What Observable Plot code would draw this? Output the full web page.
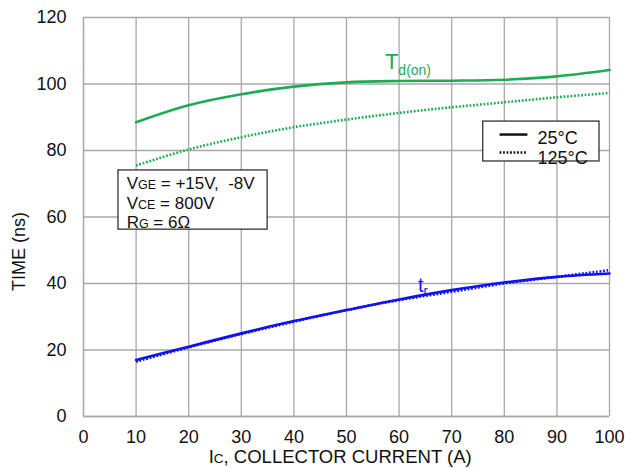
<!DOCTYPE html>
<html><head><meta charset="utf-8">
<script src="https://cdn.jsdelivr.net/npm/d3@7"></script>
<script src="https://cdn.jsdelivr.net/npm/@observablehq/plot@0.6"></script>
<style>body{margin:0;background:#fff} svg{display:block}</style>
</head><body><div id="chart"></div>
<script>
// Data
const currents = [10, 20, 30, 40, 50, 60, 70, 80, 90, 100];
const tdon25  = [88.5, 93.6, 96.9, 99.2, 100.5, 100.9, 101.0, 101.3, 102.3, 104.2];
const tdon125 = [75.5, 80.3, 84.0, 87.0, 89.3, 91.3, 93.0, 94.5, 96.0, 97.3];
const tr25    = [17.0, 21.0, 25.0, 28.7, 32.0, 35.2, 38.0, 40.3, 42.0, 43.0];
const tr125   = [16.5, 20.8, 24.8, 28.5, 32.0, 35.0, 37.5, 40.0, 42.0, 44.0];
const xTicks = [0, 10, 20, 30, 40, 50, 60, 70, 80, 90, 100];
const yTicks = [0, 20, 40, 60, 80, 100, 120];
const conditionLines = ["VGE = +15V,  -8V", "VCE = 800V", "RG = 6Ω"];
const legendLabels = ["25°C", "125°C"];
const xTitle = "IC, COLLECTOR CURRENT (A)";
const yTitle = "TIME (ns)";

const GREEN = "#1eab55", BLUE = "#1010f5", GRID = "#a8a8a8";
const DOTS = "1.8,1.7";

function rows(ys, name, temp) { return currents.map((x, i) => ({x, y: ys[i], name, temp})); }
const solidRows = [...rows(tdon25, "td", 25), ...rows(tr25, "tr", 25)];
const dotRows = [...rows(tdon125, "td", 125), ...rows(tr125, "tr", 125)];
const colorOf = d => d.name === "td" ? GREEN : BLUE;

// annotation placement (data coordinates)
const condBox = [{x1: 6.65, x2: 35.0, y1: 56.2, y2: 74.0}];
const condText = conditionLines.map((t, i) => ({t, x: 8.2, y: [70.0, 64.0, 58.4][i]}));
const legBox = [{x1: 76.0, x2: 98.1, y1: 76.7, y2: 88.7}];
const legSamples = [{x1: 79.1, x2: 84.4, y: 84.8, dash: null}, {x1: 79.1, x2: 84.4, y: 79.4, dash: DOTS}];
const legText = legendLabels.map((t, i) => ({t, x: 86.3, y: [83.6, 77.6][i]}));
const curveLabels = [{t: "Td(on)", x: 57.3, y: 106.5}, {t: "tr", x: 63.6, y: 39.3}];
const titleX = [{t: xTitle, x: 48.8}];
const titleY = [{t: yTitle, y: 49.6}];

const plot = Plot.plot({
  width: 625, height: 468,
  marginLeft: 83, marginRight: 16, marginTop: 17, marginBottom: 52,
  style: {fontFamily: "'Liberation Sans', Arial, sans-serif", fontSize: "18px", color: "#111", background: "#fff"},
  x: {domain: [0, 100]},
  y: {domain: [0, 120]},
  marks: [
    Plot.gridX(xTicks, {stroke: GRID, strokeOpacity: 1, strokeWidth: 1.3}),
    Plot.gridY(yTicks, {stroke: GRID, strokeOpacity: 1, strokeWidth: 1.3}),
    Plot.ruleX([0], {stroke: GRID, strokeWidth: 1.3}),
    Plot.ruleY([0], {stroke: GRID, strokeWidth: 1.3}),
    Plot.axisY(yTicks, {anchor: "left", tickSize: 0, tickPadding: 17, fontSize: 18, label: null}),
    Plot.axisX(xTicks, {anchor: "bottom", tickSize: 0, tickPadding: 14, fontSize: 18, label: null}),
    Plot.text(titleY, {frameAnchor: "left", y: "y", text: "t", rotate: -90, dx: -64, textAnchor: "middle", lineAnchor: "middle", fontSize: 18, fill: "#111"}),
    Plot.text(titleX, {frameAnchor: "bottom", x: "x", text: "t", dy: 40.5, textAnchor: "middle", lineAnchor: "middle", fontSize: 18.5, fill: "#111"}),
    Plot.rect(condBox, {x1: "x1", x2: "x2", y1: "y1", y2: "y2", fill: "white", stroke: "#222", strokeWidth: 1.2}),
    Plot.text(condText, {x: "x", y: "y", text: "t", textAnchor: "start", fontSize: 17, fill: "#111"}),
    Plot.rect(legBox, {x1: "x1", x2: "x2", y1: "y1", y2: "y2", fill: "white", stroke: "#222", strokeWidth: 1.2}),
    Plot.link(legSamples.filter(d => !d.dash), {x1: "x1", x2: "x2", y1: "y", y2: "y", stroke: "#111", strokeWidth: 2.5, strokeLinecap: "butt"}),
    Plot.link(legSamples.filter(d => d.dash), {x1: "x1", x2: "x2", y1: "y", y2: "y", stroke: "#111", strokeWidth: 2.5, strokeDasharray: DOTS, strokeLinecap: "butt"}),
    Plot.text(legText, {x: "x", y: "y", text: "t", textAnchor: "start", fontSize: 18, fill: "#111"}),
    Plot.line(dotRows, {x: "x", y: "y", z: "name", stroke: colorOf, strokeWidth: 2.6, strokeDasharray: DOTS, strokeLinecap: "butt", curve: "catmull-rom"}),
    Plot.line(solidRows, {x: "x", y: "y", z: "name", stroke: colorOf, strokeWidth: 2.6, curve: "catmull-rom"}),
    Plot.text(curveLabels.slice(0, 1), {x: "x", y: "y", text: "t", textAnchor: "start", fontSize: 22, fill: GREEN}),
    Plot.text(curveLabels.slice(1), {x: "x", y: "y", text: "t", textAnchor: "start", fontSize: 20, fill: BLUE})
  ]
});
document.getElementById("chart").append(plot);

// rich text: subscripts
const rich = {
  "VGE = +15V,  -8V": [["V"], ["GE", 12.5], [" = +15V,  -8V"]],
  "VCE = 800V": [["V"], ["CE", 12.5], [" = 800V"]],
  "RG = 6Ω": [["R"], ["G", 12.5], [" = 6Ω"]],
  "IC, COLLECTOR CURRENT (A)": [["I"], ["C", 13.5], [", COLLECTOR CURRENT (A)"]],
  "Td(on)": [["T"], ["d(on)", 14, 6]],
  "tr": [["t"], ["r", 13, 3]]
};
d3.select(plot).selectAll("text").each(function() {
  const spec = rich[this.textContent];
  if (!spec) return;
  const el = d3.select(this);
  el.text(null);
  let shift = 0;
  for (const [s, size, dy] of spec) {
    const ts = el.append("tspan").text(s);
    if (size) ts.attr("font-size", size);
    const want = dy || 0;
    if (want !== shift) { ts.attr("dy", want - shift); shift = want; }
  }
});
</script>
</body></html>
